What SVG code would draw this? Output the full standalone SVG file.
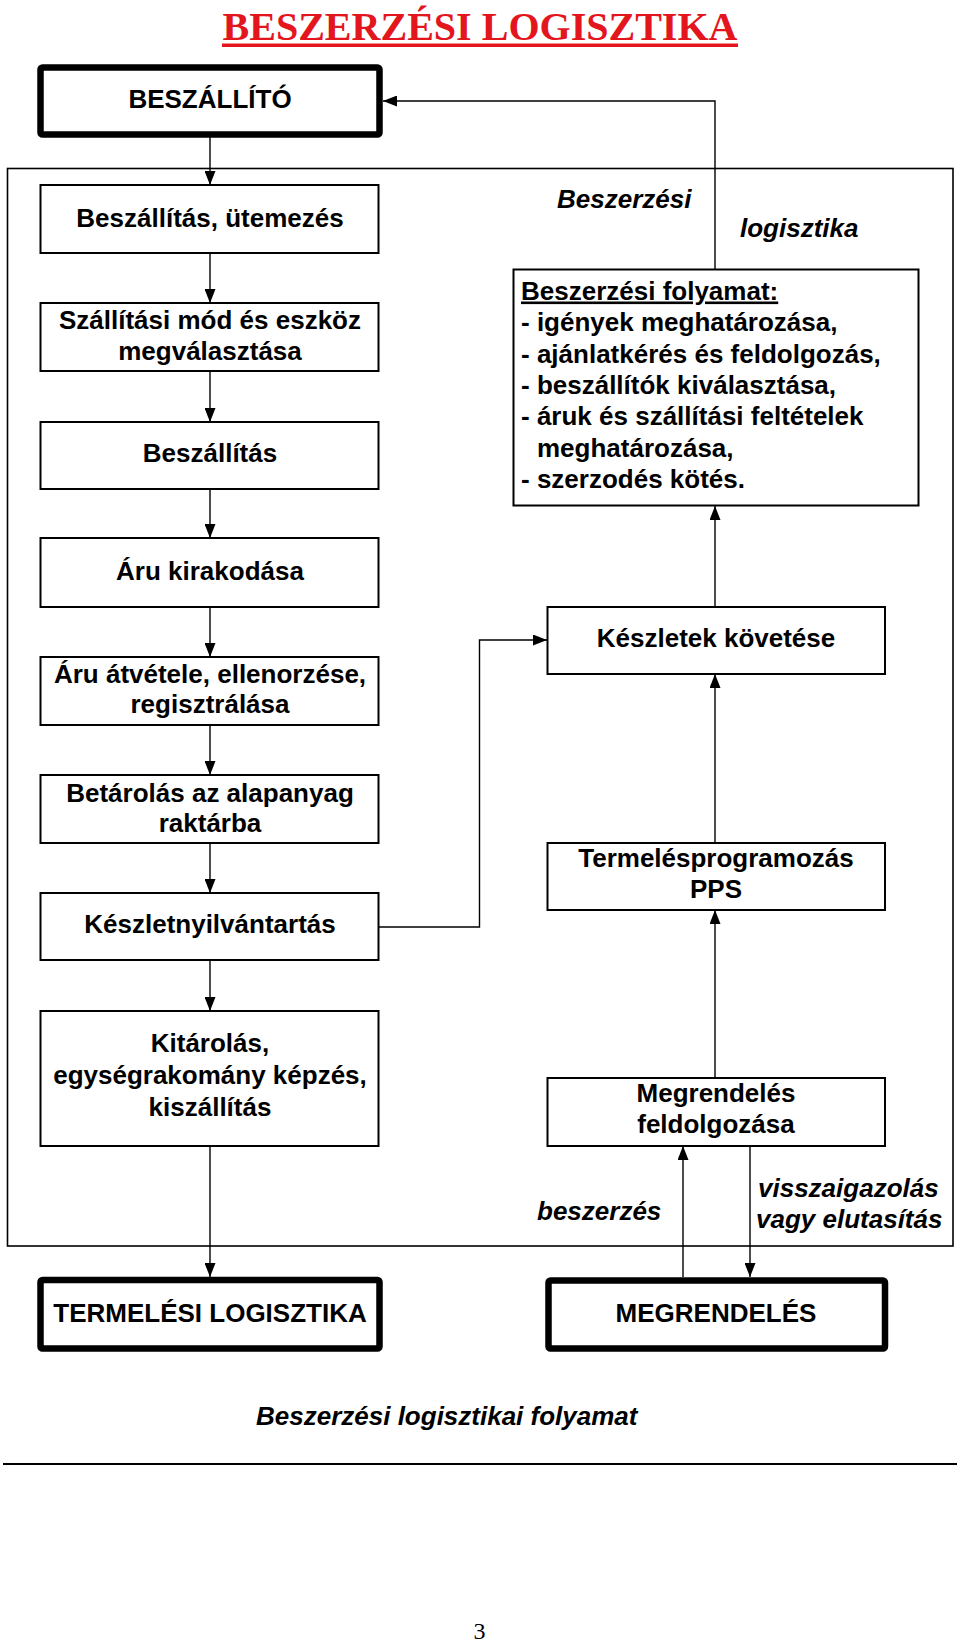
<svg xmlns="http://www.w3.org/2000/svg" width="960" height="1642" viewBox="0 0 960 1642">
<defs>
<marker id="ah" markerUnits="userSpaceOnUse" markerWidth="14" markerHeight="11" refX="14" refY="5.5" orient="auto">
<path d="M0,0 L14,5.5 L0,11 z" fill="#000"/>
</marker>
<style>
.box{fill:#fff;stroke:#000;stroke-width:2}
.thick{fill:#fff;stroke:#000;stroke-width:6.5}
.t{font-family:"Liberation Sans",Arial,sans-serif;font-weight:bold;font-size:26px;fill:#000;text-anchor:middle}
.tl{font-family:"Liberation Sans",Arial,sans-serif;font-weight:bold;font-size:26px;fill:#000}
.it{font-family:"Liberation Sans",Arial,sans-serif;font-weight:bold;font-style:italic;font-size:26px;fill:#000}
.c{fill:none;stroke:#000;stroke-width:1.4}
.ca{fill:none;stroke:#000;stroke-width:1.4;marker-end:url(#ah)}
</style>
</defs>
<rect width="960" height="1642" fill="#fff"/>

<g id="title">
<text x="480" y="40" font-family="'Liberation Serif','Times New Roman',serif" font-weight="bold" font-size="41" fill="#e3161e" text-anchor="middle" textLength="515" lengthAdjust="spacingAndGlyphs">BESZERZÉSI LOGISZTIKA</text>
<rect x="222" y="43.5" width="516" height="3.5" fill="#e3161e"/>
</g>

<g id="container">
<rect x="7.5" y="168.5" width="945.5" height="1077.5" fill="none" stroke="#000" stroke-width="1.6"/>
</g>

<g id="connectors">
<path class="ca" d="M210,137 V185"/>
<path class="ca" d="M210,253 V303"/>
<path class="ca" d="M210,371 V422"/>
<path class="ca" d="M210,489 V538"/>
<path class="ca" d="M210,607 V657"/>
<path class="ca" d="M210,725 V775"/>
<path class="ca" d="M210,843 V893"/>
<path class="ca" d="M210,960 V1011"/>
<path class="ca" d="M210,1146 V1277"/>
<path class="ca" d="M715,269.5 V101 H383"/>
<path class="ca" d="M378,927 H479.5 V640 H547"/>
<path class="ca" d="M715,607 V506"/>
<path class="ca" d="M715,843 V674"/>
<path class="ca" d="M715,1078 V910"/>
<path class="ca" d="M683,1277 V1146"/>
<path class="ca" d="M750,1146 V1277"/>
</g>

<g id="beszallito">
<rect class="thick" x="40.5" y="67.5" width="339" height="67" rx="2"/>
<text class="t" x="210" y="108">BESZÁLLÍTÓ</text>
</g>

<g id="n1">
<rect class="box" x="40.5" y="185" width="338" height="68"/>
<text class="t" x="210" y="227">Beszállítás, ütemezés</text>
</g>

<g id="n2">
<rect class="box" x="40.5" y="303" width="338" height="68"/>
<text class="t" x="210" y="329">Szállítási mód és eszköz</text>
<text class="t" x="210" y="360">megválasztása</text>
</g>

<g id="n3">
<rect class="box" x="40.5" y="422" width="338" height="67"/>
<text class="t" x="210" y="462">Beszállítás</text>
</g>

<g id="n4">
<rect class="box" x="40.5" y="538" width="338" height="69"/>
<text class="t" x="210" y="580">Áru kirakodása</text>
</g>

<g id="n5">
<rect class="box" x="40.5" y="657" width="338" height="68"/>
<text class="t" x="210" y="683">Áru átvétele, ellenorzése,</text>
<text class="t" x="210" y="713">regisztrálása</text>
</g>

<g id="n6">
<rect class="box" x="40.5" y="775" width="338" height="68"/>
<text class="t" x="210" y="802">Betárolás az alapanyag</text>
<text class="t" x="210" y="832">raktárba</text>
</g>

<g id="n7">
<rect class="box" x="40.5" y="893" width="338" height="67"/>
<text class="t" x="210" y="933">Készletnyilvántartás</text>
</g>

<g id="n8">
<rect class="box" x="40.5" y="1011" width="338" height="135"/>
<text class="t" x="210" y="1052">Kitárolás,</text>
<text class="t" x="210" y="1084">egységrakomány képzés,</text>
<text class="t" x="210" y="1116">kiszállítás</text>
</g>

<g id="termelesi">
<rect class="thick" x="40.5" y="1280" width="339" height="68.5" rx="2"/>
<text class="t" x="210" y="1322">TERMELÉSI LOGISZTIKA</text>
</g>

<g id="folyamat">
<rect class="box" x="513.5" y="269.5" width="405" height="236"/>
<text class="tl" x="521" y="299.5" text-decoration="underline">Beszerzési folyamat:</text>
<text class="tl" x="521" y="331">- igények meghatározása,</text>
<text class="tl" x="521" y="362.5">- ajánlatkérés és feldolgozás,</text>
<text class="tl" x="521" y="394">- beszállítók kiválasztása,</text>
<text class="tl" x="521" y="425">- áruk és szállítási feltételek</text>
<text class="tl" x="537" y="456.5">meghatározása,</text>
<text class="tl" x="521" y="488">- szerzodés kötés.</text>
</g>

<g id="keszletek">
<rect class="box" x="547.5" y="607" width="337.5" height="67"/>
<text class="t" x="716" y="647">Készletek követése</text>
</g>

<g id="pps">
<rect class="box" x="547.5" y="843" width="337.5" height="67"/>
<text class="t" x="716" y="867">Termelésprogramozás</text>
<text class="t" x="716" y="898">PPS</text>
</g>

<g id="megrfeld">
<rect class="box" x="547.5" y="1078" width="337.5" height="68"/>
<text class="t" x="716" y="1102">Megrendelés</text>
<text class="t" x="716" y="1133">feldolgozása</text>
</g>

<g id="megrendeles">
<rect class="thick" x="548.5" y="1280.5" width="336.5" height="68" rx="2"/>
<text class="t" x="716" y="1322">MEGRENDELÉS</text>
</g>

<g id="labels">
<text class="it" x="557" y="208">Beszerzési</text>
<text class="it" x="740" y="237">logisztika</text>
<text class="it" x="537" y="1220">beszerzés</text>
<text class="it" x="758" y="1197">visszaigazolás</text>
<text class="it" x="756" y="1228">vagy elutasítás</text>
<text class="it" x="256" y="1425">Beszerzési logisztikai folyamat</text>
</g>

<g id="footer">
<line x1="3" y1="1464" x2="957" y2="1464" stroke="#000" stroke-width="2"/>
<text x="479.5" y="1639" font-family="'Liberation Serif','Times New Roman',serif" font-size="24" fill="#000" text-anchor="middle">3</text>
</g>
</svg>
